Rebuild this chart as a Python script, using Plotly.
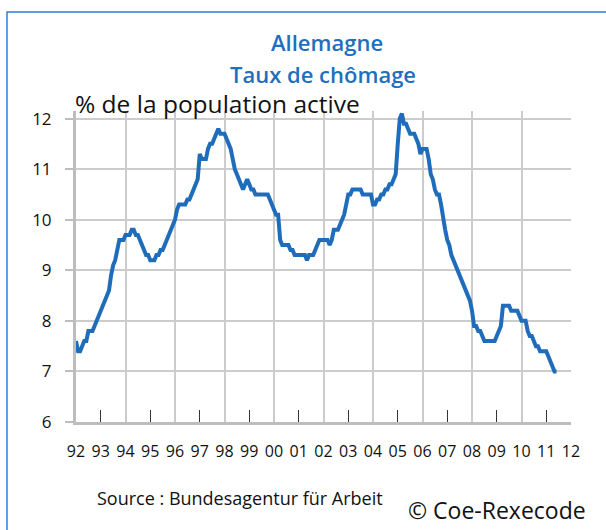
import plotly.graph_objects as go

# Monthly unemployment rate, Germany (% of labour force), Jan 1992 - Jun 2011
rate_1992 = [7.6, 7.4, 7.4, 7.5, 7.6, 7.6, 7.8, 7.8, 7.8, 7.9, 8.0, 8.1]
rate_1993 = [8.2, 8.3, 8.4, 8.5, 8.6, 8.9, 9.1, 9.2, 9.4, 9.6, 9.6, 9.6]
rate_1994 = [9.7, 9.7, 9.7, 9.8, 9.8, 9.7, 9.7, 9.6, 9.5, 9.4, 9.3, 9.3]
rate_1995 = [9.2, 9.2, 9.2, 9.3, 9.3, 9.4, 9.4, 9.5, 9.6, 9.7, 9.8, 9.9]
rate_1996 = [10.0, 10.2, 10.3, 10.3, 10.3, 10.3, 10.4, 10.4, 10.5, 10.6, 10.7, 10.8]
rate_1997 = [11.3, 11.2, 11.2, 11.2, 11.4, 11.5, 11.5, 11.6, 11.7, 11.8, 11.7, 11.7]
rate_1998 = [11.7, 11.6, 11.5, 11.4, 11.2, 11.0, 10.9, 10.8, 10.7, 10.6, 10.7, 10.8]
rate_1999 = [10.7, 10.6, 10.6, 10.5, 10.5, 10.5, 10.5, 10.5, 10.5, 10.5, 10.4, 10.3]
rate_2000 = [10.2, 10.1, 10.1, 9.6, 9.5, 9.5, 9.5, 9.5, 9.4, 9.4, 9.3, 9.3]
rate_2001 = [9.3, 9.3, 9.3, 9.3, 9.2, 9.3, 9.3, 9.3, 9.4, 9.5, 9.6, 9.6]
rate_2002 = [9.6, 9.6, 9.6, 9.5, 9.6, 9.8, 9.8, 9.8, 9.9, 10.0, 10.1, 10.3]
rate_2003 = [10.5, 10.5, 10.6, 10.6, 10.6, 10.6, 10.6, 10.5, 10.5, 10.5, 10.5, 10.5]
rate_2004 = [10.3, 10.3, 10.4, 10.4, 10.5, 10.5, 10.6, 10.6, 10.7, 10.7, 10.8, 10.9]
rate_2005 = [11.5, 12.0, 12.1, 11.9, 11.9, 11.8, 11.7, 11.7, 11.7, 11.6, 11.5, 11.3]
rate_2006 = [11.4, 11.4, 11.4, 11.2, 10.9, 10.8, 10.6, 10.5, 10.5, 10.3, 10.0, 9.8]
rate_2007 = [9.6, 9.5, 9.3, 9.2, 9.1, 9.0, 8.9, 8.8, 8.7, 8.6, 8.5, 8.4]
rate_2008 = [8.2, 7.9, 7.9, 7.8, 7.8, 7.7, 7.6, 7.6, 7.6, 7.6, 7.6, 7.6]
rate_2009 = [7.7, 7.8, 7.9, 8.3, 8.3, 8.3, 8.3, 8.2, 8.2, 8.2, 8.2, 8.1]
rate_2010 = [8.0, 8.0, 8.0, 7.8, 7.7, 7.7, 7.6, 7.5, 7.5, 7.4, 7.4, 7.4]
rate_2011 = [7.4, 7.3, 7.2, 7.1, 7.0, 7.0]

yearly = [rate_1992, rate_1993, rate_1994, rate_1995, rate_1996, rate_1997,
          rate_1998, rate_1999, rate_2000, rate_2001, rate_2002, rate_2003,
          rate_2004, rate_2005, rate_2006, rate_2007, rate_2008, rate_2009,
          rate_2010, rate_2011]
start_year = 1992

years = list(range(1992, 2013))
year_labels = ["92", "93", "94", "95", "96", "97", "98", "99", "00", "01", "02",
               "03", "04", "05", "06", "07", "08", "09", "10", "11", "12"]
y_ticks = [6, 7, 8, 9, 10, 11, 12]

title1 = "Allemagne"
title2 = "Taux de chômage"
unit_text = "% de la population active"
source_text = "Source : Bundesagentur für Arbeit"
copyright_text = "© Coe-Rexecode"

# build series
x_vals, y_vals = [], []
for i, vals in enumerate(yearly):
    for m, v in enumerate(vals):
        x_vals.append(start_year + i + m / 12.0)
        y_vals.append(v)

W, H = 606, 530
ML, MR, MT, MB = 76, 35, 111, 108
plot_w = W - ML - MR
plot_h = H - MT - MB


def px_x(px):
    return (px - ML) / plot_w


def px_y(py):
    return (H - MB - py) / plot_h


blue_line = "#1F6DBA"
blue_title = "#1E6FC0"
grid_col = "#CCCCCC"
axis_col = "#BDBDBD"
font_fam = "'Open Sans', 'Noto Sans', sans-serif"

fig = go.Figure()
fig.add_trace(go.Scatter(
    x=x_vals, y=y_vals, mode="lines",
    line=dict(color=blue_line, width=4),
    hoverinfo="skip", showlegend=False,
))
# invisible companion trace carrying the yearly label axis
fig.add_trace(go.Scatter(
    x=x_vals, y=y_vals, xaxis="x2", mode="lines", opacity=0,
    line=dict(width=0), hoverinfo="skip", showlegend=False,
))

fig.update_layout(
    width=W, height=H,
    margin=dict(l=ML, r=MR, t=MT, b=MB),
    paper_bgcolor="white", plot_bgcolor="white",
    font=dict(family=font_fam, color="#111111"),
    xaxis=dict(
        range=[years[0], years[-1]],
        tickmode="linear", tick0=years[0], dtick=2,
        showgrid=True, gridcolor=grid_col, gridwidth=1.5,
        showticklabels=False, ticks="",
        showline=True, linecolor=axis_col, linewidth=3,
        zeroline=False,
        minor=dict(tickmode="array", tickvals=years[1::2], ticks="inside",
                   ticklen=12, tickcolor="#333333", tickwidth=1, showgrid=False),
    ),
    xaxis2=dict(
        overlaying="x", anchor="y", side="bottom",
        range=[years[0], years[-1]],
        tickmode="array", tickvals=years, ticktext=year_labels,
        showgrid=False, showline=False, ticks="", zeroline=False,
        tickfont=dict(size=16, color="#111111", family=font_fam),
        ticklabelstandoff=18,
    ),
    yaxis=dict(
        range=[6, 12.15],
        tickmode="array", tickvals=y_ticks,
        showgrid=True, gridcolor=grid_col, gridwidth=1.5,
        showline=True, linecolor=axis_col, linewidth=3,
        ticks="outside", ticklen=8, tickcolor=axis_col, tickwidth=1.5,
        tickfont=dict(size=17, color="#111111", family=font_fam),
        ticklabelstandoff=10,
        zeroline=False,
    ),
    shapes=[dict(type="rect", xref="paper", yref="paper",
                 x0=px_x(7), x1=px_x(640), y0=px_y(560), y1=px_y(12),
                 line=dict(color="#2E7FD2", width=1.5), layer="below")],
    annotations=[
        dict(text=title1, x=px_x(327), y=px_y(42), xref="paper", yref="paper",
             showarrow=False, xanchor="center", yanchor="middle",
             font=dict(size=22, color=blue_title, family=font_fam, weight=600)),
        dict(text=title2, x=px_x(323), y=px_y(74), xref="paper", yref="paper",
             showarrow=False, xanchor="center", yanchor="middle",
             font=dict(size=22, color=blue_title, family=font_fam, weight=600)),
        dict(text=unit_text, x=px_x(73), y=px_y(103), xref="paper", yref="paper",
             showarrow=False, xanchor="left", yanchor="middle",
             font=dict(size=24.5, color="#111111", family=font_fam)),
        dict(text=source_text, x=px_x(240), y=px_y(498), xref="paper", yref="paper",
             showarrow=False, xanchor="center", yanchor="middle",
             font=dict(size=18, color="#111111", family=font_fam)),
        dict(text=copyright_text, x=px_x(497), y=px_y(510), xref="paper", yref="paper",
             showarrow=False, xanchor="center", yanchor="middle",
             font=dict(size=23, color="#111111", family=font_fam)),
    ],
)

fig.write_html("out.html", config={"displayModeBar": False},
               post_script="document.body.style.margin='0';")
